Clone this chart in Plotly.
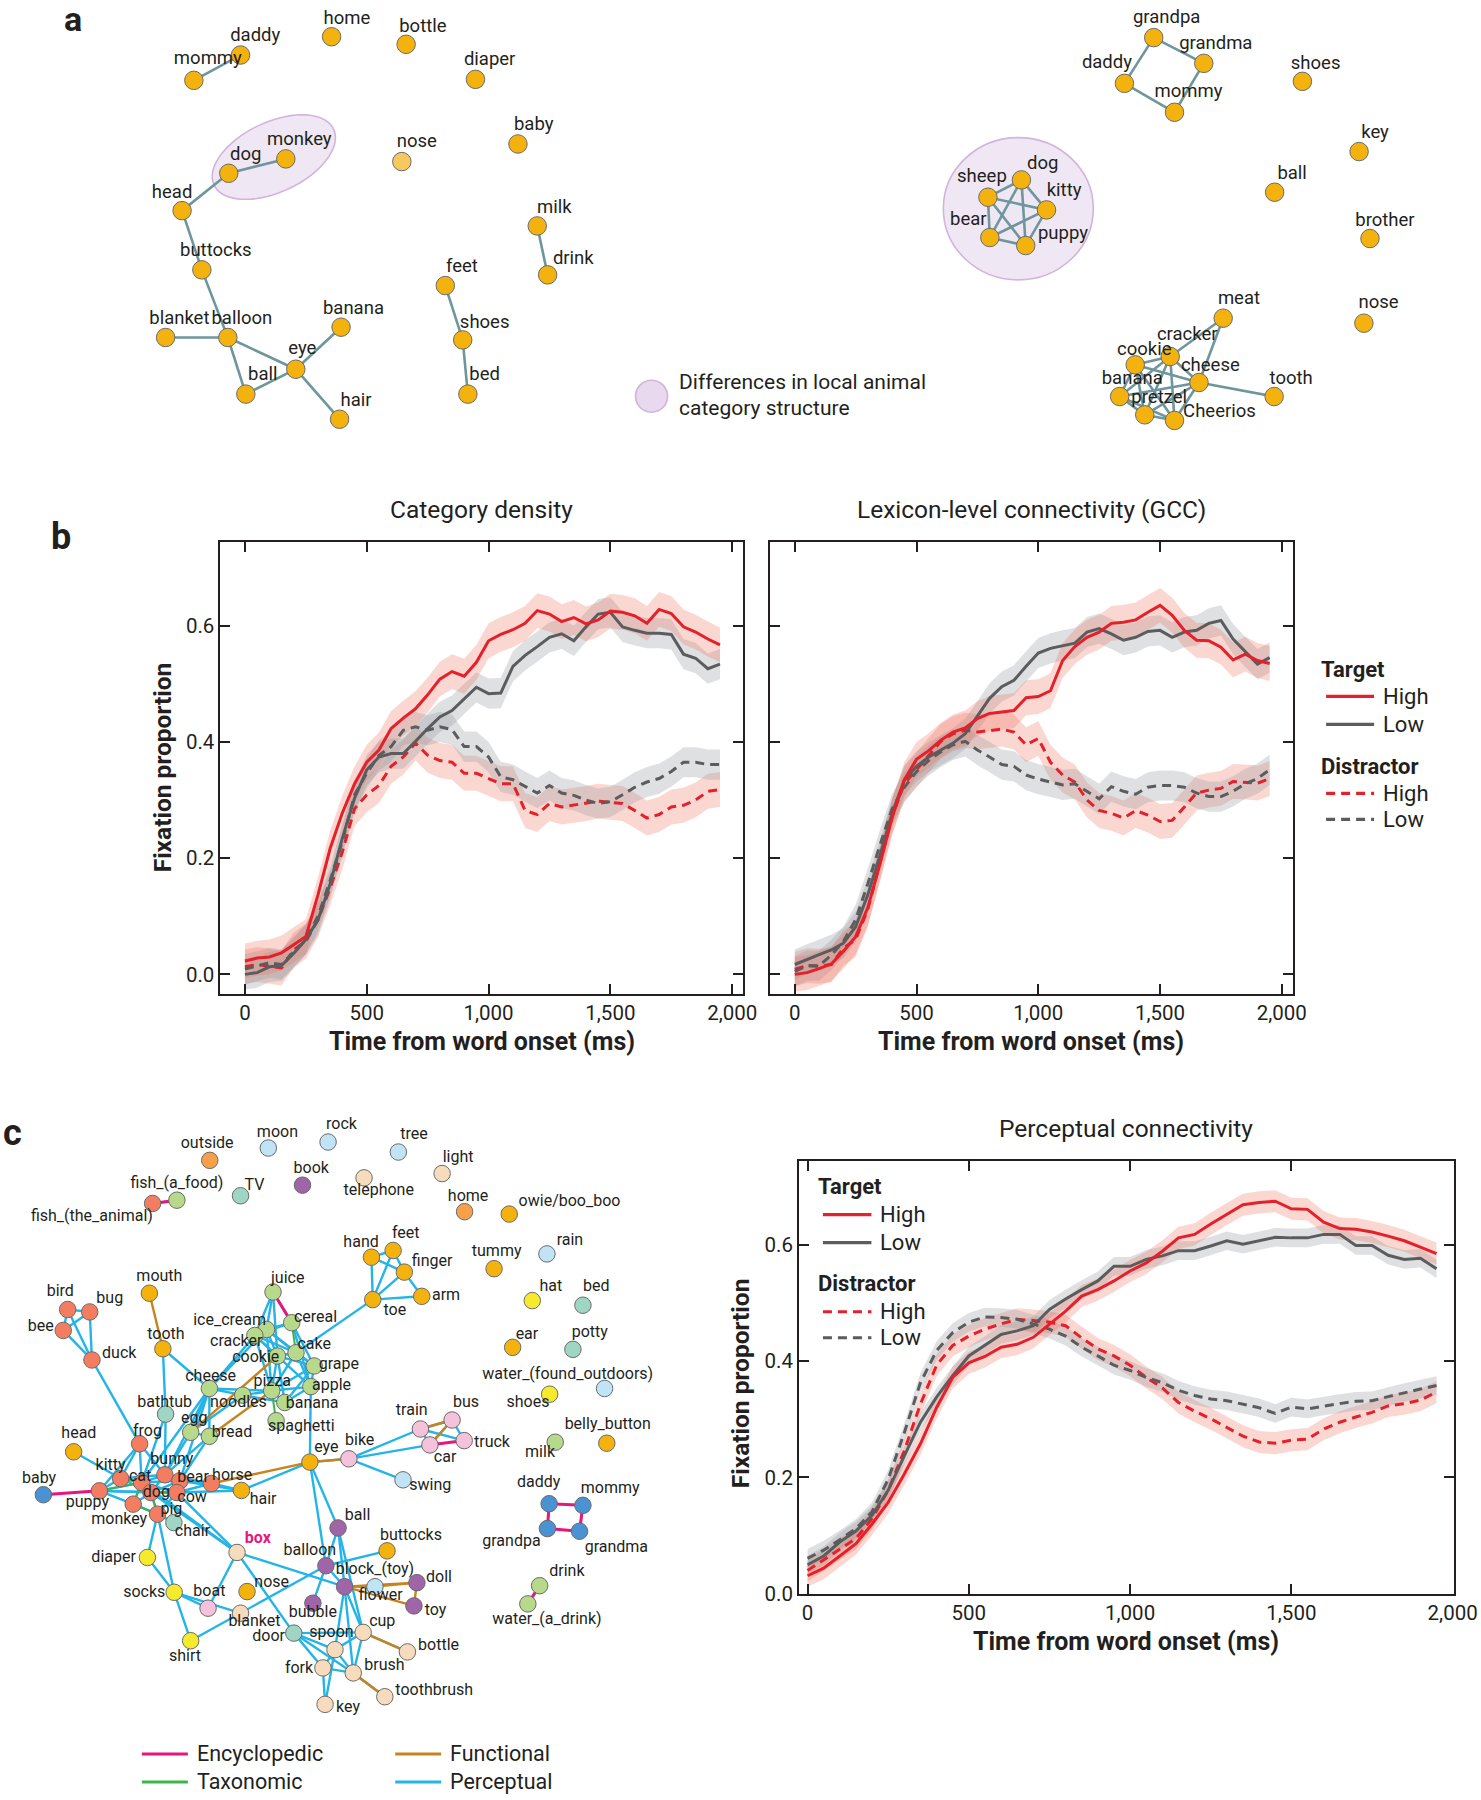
import math
import plotly.graph_objects as go

W, H = 1481, 1800          # design canvas: all coordinates below are in these units
FIG_W, FIG_H = 1504, 1813  # rendered size (the page photo otherwise carries an extra margin)
FONT = "Roboto"
INK = "#231f20"

# ---------------- Panel a: network data ----------------
a1_names = ["daddy", "mommy", "home", "bottle", "diaper", "baby", "nose", "dog", "monkey", "head",
            "milk", "drink", "buttocks", "feet", "shoes", "bed", "blanket", "balloon", "banana",
            "eye", "ball", "hair"]
a1_x = [240.7, 194.0, 331.8, 406.4, 475.8, 518.3, 402.1, 228.9, 286.0, 182.2,
        537.6, 548.0, 202.0, 445.6, 463.0, 468.2, 165.7, 228.0, 341.3, 296.0, 246.0, 339.8]
a1_y = [55.0, 80.3, 36.7, 44.3, 79.3, 143.9, 161.5, 173.2, 158.8, 210.5,
        225.8, 274.7, 269.7, 285.4, 339.7, 393.9, 337.3, 337.3, 327.0, 369.0, 393.9, 419.0]
a1_edges = [("daddy", "mommy"), ("dog", "monkey"), ("dog", "head"), ("head", "buttocks"),
            ("buttocks", "balloon"), ("blanket", "balloon"), ("balloon", "eye"), ("balloon", "ball"),
            ("ball", "eye"), ("eye", "banana"), ("eye", "hair"), ("milk", "drink"),
            ("feet", "shoes"), ("shoes", "bed")]

a2_names = ["grandpa", "grandma", "daddy", "mommy", "shoes", "key", "ball", "brother", "nose",
            "dog", "sheep", "kitty", "bear", "puppy", "meat", "cracker", "cookie", "cheese",
            "tooth", "banana", "pretzel", "Cheerios"]
a2_x = [1154.5, 1204.6, 1125.2, 1175.3, 1303.3, 1360.0, 1275.5, 1370.9, 1364.8,
        1022.1, 988.6, 1047.2, 990.5, 1026.4, 1224.0, 1171.0, 1136.0, 1199.8,
        1275.0, 1120.4, 1145.5, 1175.3]
a2_y = [37.6, 63.3, 83.3, 112.2, 81.3, 151.5, 192.1, 238.4, 323.0,
        179.8, 197.1, 209.8, 237.4, 245.4, 318.0, 356.3, 364.6, 382.3,
        396.3, 396.3, 414.6, 420.2]
a2_edges = [("grandpa", "grandma"), ("grandpa", "daddy"), ("daddy", "mommy"), ("grandma", "mommy"),
            ("sheep", "dog"), ("dog", "kitty"), ("kitty", "puppy"), ("puppy", "bear"), ("bear", "sheep"),
            ("sheep", "kitty"), ("sheep", "puppy"), ("dog", "bear"), ("dog", "puppy"), ("bear", "kitty"),
            ("meat", "cracker"), ("meat", "cheese"), ("cheese", "tooth"),
            ("cookie", "cracker"), ("cookie", "cheese"), ("cookie", "banana"), ("cookie", "pretzel"),
            ("cookie", "Cheerios"), ("cracker", "cheese"), ("cracker", "banana"), ("cracker", "pretzel"),
            ("cracker", "Cheerios"), ("cheese", "banana"), ("cheese", "pretzel"), ("cheese", "Cheerios"),
            ("banana", "pretzel"), ("banana", "Cheerios"), ("pretzel", "Cheerios")]

# ---------------- Panel c: network data ----------------
c_names = ["outside", "moon", "rock", "tree", "light", "book", "telephone", "TV", "fish_(a_food)",
           "fish_(the_animal)", "home", "owie/boo_boo", "hand", "feet", "finger", "arm", "toe", "tummy",
           "rain", "hat", "bed", "ear", "potty", "water_(found_outdoors)", "shoes", "belly_button", "milk",
           "mouth", "tooth", "bird", "bug", "bee", "duck", "juice", "cereal", "ice_cream", "cracker",
           "cake", "cookie", "grape", "cheese", "pizza", "apple", "noodles", "banana", "bathtub",
           "spaghetti", "egg", "bread", "frog", "head", "train", "bus", "truck", "car", "bike", "eye",
           "baby", "puppy", "kitty", "cat", "bunny", "bear", "horse", "dog", "cow", "monkey", "pig",
           "chair", "hair", "swing", "ball", "buttocks", "box", "balloon", "block_(toy)", "flower",
           "doll", "toy", "bubble", "diaper", "socks", "boat", "nose", "blanket", "shirt", "door",
           "spoon", "cup", "bottle", "fork", "brush", "toothbrush", "key", "daddy", "mommy",
           "grandpa", "grandma", "drink", "water_(a_drink)"]
c_x = [209.9, 268.5, 328.3, 398.6, 442.4, 302.7, 364.3, 240.7, 177.0,
       152.7, 464.9, 509.6, 371.7, 393.4, 404.6, 422.0, 373.0, 494.4,
       547.3, 532.6, 583.3, 513.0, 573.3, 605.0, 550.0, 607.2, 555.6,
       149.5, 163.0, 67.7, 89.8, 63.3, 92.0, 273.2, 291.9, 266.7, 255.0,
       296.2, 277.6, 314.4, 209.5, 271.9, 311.0, 242.9, 285.0, 165.7,
       276.3, 190.8, 209.5, 139.7, 73.7, 420.7, 452.4, 464.5, 430.2, 349.1, 310.1,
       43.4, 99.5, 120.7, 141.7, 165.0, 180.0, 211.5, 151.0, 177.0, 133.3, 157.7,
       174.0, 241.6, 403.3, 338.3, 387.3, 237.2, 326.1, 344.8, 375.2,
       417.2, 414.2, 313.1, 147.5, 174.3, 208.2, 247.2, 240.7, 190.8, 294.0,
       335.2, 363.4, 407.7, 323.1, 353.5, 385.1, 325.3, 549.5, 583.3,
       547.8, 579.9, 540.0, 528.2]
c_y = [1159.7, 1147.4, 1141.4, 1151.4, 1172.9, 1184.5, 1177.2, 1195.1, 1199.5,
       1202.8, 1211.0, 1213.4, 1256.5, 1249.8, 1271.4, 1295.6, 1298.9, 1268.0,
       1253.2, 1299.9, 1304.5, 1346.6, 1348.6, 1387.7, 1393.4, 1442.4, 1441.4,
       1292.5, 1348.0, 1308.8, 1311.2, 1329.7, 1359.2, 1291.3, 1322.0, 1328.7, 1334.7,
       1352.0, 1355.3, 1365.2, 1387.7, 1390.0, 1385.8, 1394.4, 1401.7, 1413.3,
       1419.9, 1431.5, 1435.5, 1443.0, 1451.0, 1428.2, 1419.2, 1439.8, 1444.1, 1458.0, 1461.3,
       1493.9, 1490.0, 1477.7, 1481.7, 1474.0, 1480.0, 1482.7, 1491.7, 1491.7, 1503.3, 1513.3,
       1521.7, 1489.6, 1479.0, 1527.1, 1550.0, 1551.6, 1564.9, 1585.8, 1585.8,
       1581.8, 1605.0, 1602.3, 1556.6, 1591.4, 1607.3, 1590.7, 1612.3, 1639.8, 1632.2,
       1648.7, 1631.5, 1651.0, 1667.0, 1672.0, 1695.8, 1703.4, 1502.9, 1504.5,
       1527.7, 1530.4, 1584.8, 1603.0]
c_category = {
    "animal": ["fish_(the_animal)", "bird", "bug", "bee", "duck", "frog", "puppy", "kitty", "cat", "bunny",
               "bear", "horse", "dog", "cow", "monkey", "pig"],
    "body": ["owie/boo_boo", "hand", "feet", "finger", "arm", "toe", "tummy", "ear", "belly_button", "mouth",
             "tooth", "head", "eye", "hair", "buttocks", "nose"],
    "food": ["fish_(a_food)", "milk", "juice", "cereal", "ice_cream", "cracker", "cake", "cookie", "grape",
             "cheese", "pizza", "apple", "noodles", "banana", "spaghetti", "egg", "bread", "drink",
             "water_(a_drink)"],
    "furniture": ["TV", "bed", "potty", "bathtub", "chair", "door"],
    "outdoors": ["moon", "rock", "tree", "rain", "water_(found_outdoors)", "swing", "flower"],
    "household": ["light", "telephone", "box", "blanket", "spoon", "cup", "bottle", "fork", "brush",
                  "toothbrush", "key"],
    "toys": ["book", "ball", "balloon", "block_(toy)", "doll", "toy", "bubble"],
    "vehicles": ["train", "bus", "truck", "car", "bike", "boat"],
    "clothing": ["hat", "shoes", "diaper", "socks", "shirt"],
    "places": ["outside", "home"],
    "people": ["baby", "daddy", "mommy", "grandpa", "grandma"],
}
c_edges_perceptual = [
    ("fish_(a_food)", "fish_(the_animal)"),
    ("hand", "feet"), ("hand", "toe"), ("hand", "finger"), ("feet", "finger"), ("feet", "toe"),
    ("finger", "toe"), ("finger", "arm"), ("toe", "arm"), ("toe", "cake"),
    ("bird", "bug"), ("bird", "bee"), ("bird", "duck"), ("bug", "bee"), ("bug", "duck"), ("bee", "duck"),
    ("duck", "frog"), ("tooth", "cheese"), ("tooth", "bathtub"),
    ("juice", "cereal"), ("juice", "ice_cream"), ("juice", "cracker"), ("juice", "cookie"),
    ("cereal", "ice_cream"), ("cereal", "cracker"), ("cereal", "apple"), ("cereal", "grape"),
    ("ice_cream", "cracker"), ("ice_cream", "cookie"), ("ice_cream", "cheese"), ("ice_cream", "pizza"),
    ("ice_cream", "cake"), ("ice_cream", "grape"), ("cracker", "cookie"), ("cracker", "cheese"),
    ("cracker", "pizza"), ("cracker", "cake"), ("cracker", "apple"), ("cookie", "cake"), ("cookie", "pizza"),
    ("cookie", "grape"), ("cookie", "banana"), ("cake", "grape"), ("cake", "apple"), ("cake", "pizza"),
    ("grape", "apple"), ("grape", "pizza"), ("grape", "banana"), ("apple", "banana"), ("apple", "pizza"),
    ("apple", "eye"), ("pizza", "banana"), ("pizza", "noodles"), ("pizza", "cheese"),
    ("noodles", "cheese"), ("noodles", "egg"), ("noodles", "banana"),
    ("cheese", "bread"), ("cheese", "egg"), ("cheese", "bunny"), ("cheese", "cat"), ("cheese", "bear"),
    ("egg", "bunny"), ("bread", "bunny"), ("bread", "bear"), ("egg", "bread"),
    ("bathtub", "bunny"), ("bathtub", "cat"), ("head", "kitty"),
    ("frog", "kitty"), ("frog", "cat"), ("frog", "bunny"), ("frog", "puppy"),
    ("puppy", "kitty"), ("puppy", "cat"), ("puppy", "dog"), ("puppy", "monkey"), ("puppy", "cow"),
    ("kitty", "cat"), ("kitty", "dog"), ("kitty", "bunny"), ("cat", "dog"), ("cat", "bunny"),
    ("cat", "bear"), ("cat", "cow"), ("cat", "monkey"), ("bunny", "bear"), ("bunny", "dog"),
    ("bunny", "horse"), ("bear", "horse"), ("bear", "dog"), ("bear", "cow"), ("dog", "cow"),
    ("dog", "pig"), ("dog", "monkey"), ("cow", "pig"), ("cow", "horse"), ("monkey", "pig"), ("pig", "chair"),
    ("horse", "hair"), ("cow", "hair"), ("bear", "hair"),
    ("dog", "box"), ("cow", "box"), ("cat", "box"),
    ("pig", "diaper"), ("pig", "socks"), ("diaper", "socks"), ("socks", "shirt"),
    ("eye", "hair"), ("eye", "bike"), ("eye", "ball"), ("eye", "balloon"),
    ("bike", "train"), ("bike", "car"), ("bike", "swing"),
    ("train", "car"), ("train", "truck"), ("bus", "truck"), ("train", "bus"), ("car", "bus"),
    ("box", "boat"), ("box", "block_(toy)"), ("box", "door"),
    ("socks", "boat"), ("socks", "blanket"), ("shirt", "balloon"),
    ("balloon", "ball"), ("balloon", "buttocks"), ("balloon", "block_(toy)"), ("balloon", "bubble"),
    ("ball", "block_(toy)"), ("ball", "cup"),
    ("block_(toy)", "flower"), ("block_(toy)", "spoon"), ("block_(toy)", "cup"), ("block_(toy)", "brush"),
    ("door", "spoon"), ("door", "fork"), ("door", "brush"), ("door", "cup"),
    ("spoon", "cup"), ("spoon", "fork"), ("spoon", "brush"), ("spoon", "key"),
    ("cup", "bottle"), ("cup", "brush"), ("brush", "toothbrush"), ("brush", "fork"), ("fork", "key"),
]
c_edges_functional = [
    ("mouth", "tooth"), ("cookie", "egg"), ("bread", "pizza"), ("horse", "eye"), ("eye", "bike"),
    ("train", "bus"), ("bus", "car"), ("block_(toy)", "doll"), ("flower", "doll"), ("block_(toy)", "toy"),
    ("doll", "toy"), ("cup", "bottle"), ("brush", "toothbrush"),
]
c_edges_taxonomic = [
    ("cereal", "cake"), ("pizza", "spaghetti"), ("kitty", "cat"), ("puppy", "cat"), ("dog", "cow"),
    ("dog", "pig"), ("monkey", "pig"), ("cat", "monkey"), ("cat", "dog"), ("daddy", "grandpa"),
    ("mommy", "grandma"), ("drink", "water_(a_drink)"),
]
c_edges_encyclopedic = [
    ("fish_(a_food)", "fish_(the_animal)"), ("juice", "cereal"), ("car", "truck"), ("baby", "puppy"),
    ("daddy", "mommy"), ("grandpa", "grandma"), ("daddy", "grandpa"), ("mommy", "grandma"),
    ("drink", "water_(a_drink)"),
]

# ---------------- Time-course data (fixation proportions) ----------------
t_ms = [0, 50, 100, 150, 200, 250, 300, 350, 400, 450, 500, 550, 600, 650, 700, 750, 800, 850, 900, 950,
        1000, 1050, 1100, 1150, 1200, 1250, 1300, 1350, 1400, 1450, 1500, 1550, 1600, 1650, 1700, 1750,
        1800, 1850, 1900, 1950]

cd_target_high = [0.023, 0.028, 0.030, 0.037, 0.051, 0.065, 0.137, 0.217, 0.278, 0.328, 0.365, 0.386,
                  0.423, 0.441, 0.457, 0.481, 0.508, 0.521, 0.513, 0.537, 0.574, 0.585, 0.593, 0.604,
                  0.626, 0.620, 0.607, 0.614, 0.603, 0.610, 0.625, 0.623, 0.617, 0.604, 0.628, 0.621,
                  0.598, 0.589, 0.577, 0.567]
cd_target_low = [0.000, 0.003, 0.013, 0.015, 0.036, 0.060, 0.094, 0.156, 0.235, 0.303, 0.352, 0.374,
                 0.380, 0.380, 0.401, 0.423, 0.443, 0.454, 0.474, 0.494, 0.483, 0.484, 0.530, 0.549,
                 0.564, 0.580, 0.586, 0.574, 0.598, 0.620, 0.623, 0.598, 0.592, 0.587, 0.587, 0.585,
                 0.551, 0.544, 0.526, 0.534]
cd_distr_high = [0.013, 0.017, 0.014, 0.011, 0.042, 0.057, 0.094, 0.149, 0.211, 0.285, 0.309, 0.325,
                 0.358, 0.374, 0.398, 0.377, 0.368, 0.365, 0.346, 0.346, 0.337, 0.328, 0.328, 0.282,
                 0.275, 0.294, 0.288, 0.291, 0.294, 0.298, 0.296, 0.294, 0.282, 0.269, 0.275, 0.288,
                 0.291, 0.300, 0.315, 0.318]
cd_distr_low = [0.009, 0.014, 0.020, 0.017, 0.039, 0.060, 0.100, 0.162, 0.229, 0.309, 0.346, 0.377,
                0.392, 0.420, 0.426, 0.420, 0.426, 0.421, 0.392, 0.392, 0.374, 0.340, 0.335, 0.323,
                0.312, 0.325, 0.312, 0.308, 0.300, 0.294, 0.297, 0.309, 0.322, 0.331, 0.337, 0.349,
                0.365, 0.365, 0.361, 0.361]

gcc_target_high = [0.000, 0.003, 0.010, 0.018, 0.040, 0.065, 0.115, 0.190, 0.270, 0.335, 0.370, 0.385,
                   0.403, 0.417, 0.424, 0.440, 0.449, 0.451, 0.454, 0.476, 0.478, 0.488, 0.540, 0.564,
                   0.580, 0.589, 0.604, 0.606, 0.610, 0.623, 0.635, 0.618, 0.592, 0.575, 0.574, 0.563,
                   0.541, 0.551, 0.540, 0.535]
gcc_target_low = [0.017, 0.026, 0.034, 0.042, 0.054, 0.082, 0.137, 0.205, 0.278, 0.334, 0.358, 0.374,
                  0.386, 0.398, 0.414, 0.444, 0.475, 0.495, 0.506, 0.530, 0.553, 0.561, 0.566, 0.570,
                  0.589, 0.595, 0.586, 0.575, 0.580, 0.590, 0.592, 0.580, 0.589, 0.592, 0.604, 0.609,
                  0.577, 0.555, 0.534, 0.545]
gcc_distr_high = [0.009, 0.015, 0.014, 0.017, 0.045, 0.060, 0.112, 0.192, 0.272, 0.328, 0.352, 0.377,
                  0.401, 0.414, 0.420, 0.417, 0.420, 0.422, 0.417, 0.395, 0.406, 0.365, 0.343, 0.331,
                  0.300, 0.282, 0.277, 0.269, 0.282, 0.274, 0.263, 0.265, 0.288, 0.312, 0.317, 0.320,
                  0.332, 0.331, 0.329, 0.337]
gcc_distr_low = [0.005, 0.015, 0.015, 0.033, 0.057, 0.094, 0.156, 0.223, 0.285, 0.322, 0.349, 0.368,
                 0.383, 0.395, 0.401, 0.386, 0.374, 0.361, 0.358, 0.343, 0.336, 0.331, 0.326, 0.328,
                 0.315, 0.302, 0.323, 0.315, 0.310, 0.322, 0.325, 0.325, 0.322, 0.312, 0.306, 0.306,
                 0.315, 0.328, 0.337, 0.352]

pc_target_high = [0.031, 0.044, 0.065, 0.086, 0.120, 0.157, 0.206, 0.258, 0.320, 0.372, 0.397, 0.408,
                  0.424, 0.429, 0.441, 0.464, 0.486, 0.512, 0.523, 0.538, 0.555, 0.569, 0.589, 0.612,
                  0.618, 0.636, 0.653, 0.669, 0.673, 0.675, 0.662, 0.661, 0.639, 0.628, 0.627, 0.622,
                  0.615, 0.607, 0.596, 0.585]
pc_target_low = [0.050, 0.065, 0.089, 0.108, 0.135, 0.178, 0.237, 0.295, 0.338, 0.375, 0.409, 0.427,
                 0.446, 0.452, 0.461, 0.489, 0.507, 0.523, 0.538, 0.563, 0.563, 0.575, 0.581, 0.590,
                 0.590, 0.598, 0.607, 0.601, 0.607, 0.613, 0.612, 0.612, 0.618, 0.618, 0.599, 0.599,
                 0.582, 0.575, 0.577, 0.559]
pc_distr_high = [0.040, 0.058, 0.077, 0.095, 0.129, 0.178, 0.246, 0.326, 0.393, 0.427, 0.443, 0.455,
                 0.464, 0.472, 0.470, 0.467, 0.461, 0.440, 0.421, 0.409, 0.393, 0.372, 0.354, 0.329,
                 0.314, 0.301, 0.286, 0.271, 0.261, 0.259, 0.264, 0.266, 0.283, 0.295, 0.304, 0.312,
                 0.323, 0.327, 0.333, 0.347]
pc_distr_low = [0.061, 0.075, 0.093, 0.112, 0.141, 0.197, 0.277, 0.363, 0.418, 0.449, 0.467, 0.476,
                0.475, 0.472, 0.464, 0.455, 0.443, 0.424, 0.409, 0.393, 0.384, 0.372, 0.363, 0.350,
                0.341, 0.335, 0.332, 0.326, 0.320, 0.310, 0.321, 0.318, 0.323, 0.327, 0.331, 0.332,
                0.339, 0.346, 0.352, 0.358]

# standard-error half widths of the ribbons
se_b_red, se_b_gray = 0.030, 0.026
se_c_red, se_c_gray = 0.019, 0.016

x_tick_vals = [0, 500, 1000, 1500, 2000]
x_tick_text = ["0", "500", "1,000", "1,500", "2,000"]
y_tick_vals = [0.0, 0.2, 0.4, 0.6]
y_tick_text = ["0.0", "0.2", "0.4", "0.6"]

# ---------------- Styles / layout positions ----------------
RED = "#e5202a"
GRAY = "#5b5c5e"
RED_BAND = "rgba(240,110,90,0.28)"
GRAY_BAND = "rgba(150,153,158,0.30)"
A_NODE = "#f4b20f"
A_EDGE = "#6e969c"
EDGE_COL = {"P": "#25b4e8", "F": "#c6841f", "T": "#3cb54a", "E": "#e8157f"}
CAT_COL = {"animal": "#f27d60", "body": "#f4b20f", "food": "#b7d98c", "furniture": "#9fd6c3",
           "outdoors": "#c0e4f6", "household": "#f6dcbd", "toys": "#a065a8", "vehicles": "#f5c2db",
           "clothing": "#f5ea2e", "places": "#f6a04a", "people": "#4a92d2"}

a1_lab = {"daddy": (14.7, -19), "mommy": (14, -21), "home": (15.3, -17.4), "bottle": (16.8, -17.3),
          "diaper": (14.2, -18.6), "baby": (15.8, -18.3), "nose": (15, -19.2), "dog": (17, -18),
          "monkey": (13.5, -18.8), "head": (-10, -17.5), "milk": (17, -17.8), "drink": (25.7, -15.3),
          "buttocks": (14, -18), "feet": (16.6, -17.7), "shoes": (22, -17), "bed": (16.8, -18.6),
          "blanket": (13.8, -18.6), "balloon": (14, -18.6), "banana": (12.4, -17.6), "eye": (6.5, -20.3),
          "ball": (17, -18.6), "hair": (16.4, -17.7)}
a2_lab = {"grandpa": (12.9, -18.9), "grandma": (12, -19), "daddy": (-17.5, -19.7), "mommy": (14, -20.2),
          "shoes": (13.2, -17), "key": (16, -18.3), "ball": (17.5, -17.6), "brother": (15, -17.3),
          "nose": (14.7, -19.3), "dog": (21.4, -15.8), "sheep": (-6, -20), "kitty": (17.6, -18.7),
          "bear": (-21.5, -17.3), "puppy": (37.3, -11.6), "meat": (15.8, -18.3), "cracker": (17, -21),
          "cookie": (9, -14.6), "cheese": (11.4, -16.3), "tooth": (17, -17), "banana": (12.6, -16.7),
          "pretzel": (14.5, -16.6), "Cheerios": (45, -8)}
c_lab = {"outside": (-2.6, -15.9), "moon": (9.1, -14.9), "rock": (13.4, -17.2), "tree": (15.6, -17.2),
         "light": (16, -15.9), "book": (8.7, -16.6), "telephone": (14.7, 13.3), "TV": (13.9, -9.9),
         "fish_(a_food)": (0, -15.9), "fish_(the_animal)": (-60.7, 13.3), "home": (3.5, -14.9),
         "owie/boo_boo": (60.3, -12.3), "hand": (-10.4, -14.6), "feet": (12.6, -16.2),
         "finger": (27.8, -9.9), "arm": (24.3, 0), "toe": (22.1, 10.9), "tummy": (2.6, -16.6),
         "rain": (23, -12.9), "hat": (18.6, -13.6), "bed": (13.4, -17.9), "ear": (14.3, -12.6),
         "potty": (16.9, -15.9), "water_(found_outdoors)": (-36.9, -13.3), "shoes": (-21.7, 9.3),
         "belly_button": (0.9, -18.2), "milk": (-15.2, 10.6), "mouth": (10, -15.9), "tooth": (3, -13.9),
         "bird": (-7.4, -17.2), "bug": (20, -12.9), "bee": (-22.6, -3.6), "duck": (27.3, -6.3),
         "juice": (14.7, -12.9), "cereal": (23.9, -5), "ice_cream": (-36.9, -8.3), "cracker": (-18.6, 6.6),
         "cake": (18.2, -7.3), "cookie": (-21.7, 1.7), "grape": (24.7, -0.7), "cheese": (1.3, -11.9),
         "pizza": (0.4, -8.3), "apple": (20.8, -0.7), "noodles": (-4.3, 8), "banana": (27.3, 1.7),
         "bathtub": (-0.9, -10.9), "spaghetti": (25.2, 6.6), "egg": (3.5, -13.3), "bread": (22.6, -3),
         "frog": (7.8, -11.6), "head": (5.2, -17.6), "train": (-8.7, -18.2), "bus": (13.9, -16.6),
         "truck": (27.8, 2.3), "car": (15.2, 12.9), "bike": (10.8, -17.6), "eye": (16.5, -13.9),
         "baby": (-4.3, -15.9), "puppy": (-12, 12.3), "kitty": (-10, -12.6), "cat": (-1.5, -5.5),
         "bunny": (7, -15), "bear": (13.2, -3.3), "horse": (20.8, -7.6), "dog": (5.5, 0),
         "cow": (15.2, 5.3), "monkey": (-14, 15.9), "pig": (13.8, -4.3), "chair": (18.6, 9.3),
         "hair": (21.7, 9.9), "swing": (27.3, 6.3), "ball": (19.5, -11.9), "buttocks": (23.9, -14.6),
         "box": (20.8, -13.9), "balloon": (-16, -14.6), "block_(toy)": (30.4, -16.6), "flower": (5.6, 9),
         "doll": (22.1, -4.3), "toy": (21.7, 5), "bubble": (0, 9.3), "diaper": (-33.8, 0.3),
         "socks": (-29.9, 1), "boat": (1.3, -16.6), "nose": (24.7, -8.3), "blanket": (13.9, 8.3),
         "shirt": (-5.6, 16.6), "door": (-25.2, 4), "spoon": (-3.5, -16.6), "cup": (19.1, -10.9),
         "bottle": (31.2, -5.6), "fork": (-23.9, 1), "brush": (31.2, -6.6), "toothbrush": (49.4, -5.6),
         "key": (23, 4), "daddy": (-10.4, -20.6), "mommy": (27.3, -16.6), "grandpa": (-36, 13.3),
         "grandma": (36.9, 16.6), "drink": (27.3, -13.3), "water_(a_drink)": (19.1, 15.9)}

fig = go.Figure()


def add_network(names, xs, ys, edges, edge_color, edge_width, node_colors, node_size, labels, font_size,
                label_colors=None, label_texts=None):
    pos = {n: (x, y) for n, x, y in zip(names, xs, ys)}
    for group, col, wid in zip(edges, edge_color, edge_width):
        ex, ey = [], []
        for a, b in group:
            ex += [pos[a][0], pos[b][0], None]
            ey += [pos[a][1], pos[b][1], None]
        fig.add_trace(go.Scatter(x=ex, y=ey, mode="lines", line=dict(color=col, width=wid),
                                 hoverinfo="skip", showlegend=False, xaxis="x", yaxis="y"))
    fig.add_trace(go.Scatter(x=xs, y=ys, mode="markers",
                             marker=dict(size=node_size, color=node_colors,
                                         line=dict(color="#6b6b6b", width=1)),
                             text=names, hoverinfo="text", showlegend=False, xaxis="x", yaxis="y"))
    lx = [pos[n][0] + labels[n][0] for n in names]
    ly = [pos[n][1] + labels[n][1] for n in names]
    fig.add_trace(go.Scatter(x=lx, y=ly, mode="text", text=label_texts or names,
                             textposition="middle center",
                             textfont=dict(family=FONT, size=font_size,
                                           color=label_colors or INK),
                             hoverinfo="skip", showlegend=False, xaxis="x", yaxis="y"))


# Panel a networks
a1_colors = [("#f6c85e" if n == "nose" else A_NODE) for n in a1_names]
add_network(a1_names, a1_x, a1_y, [a1_edges], [A_EDGE], [2.6], a1_colors, 18.5, a1_lab, 18.5)
add_network(a2_names, a2_x, a2_y, [a2_edges], [A_EDGE], [2.6], [A_NODE] * len(a2_names), 18.5, a2_lab, 18.5)

# Panel c network
cat_of = {n: c for c, lst in c_category.items() for n in lst}
c_colors = [CAT_COL[cat_of[n]] for n in c_names]
c_label_colors = [("#e8157f" if n == "box" else INK) for n in c_names]
c_label_texts = [("<b>box</b>" if n == "box" else n) for n in c_names]
add_network(c_names, c_x, c_y,
            [c_edges_perceptual, c_edges_functional, c_edges_taxonomic, c_edges_encyclopedic],
            [EDGE_COL["P"], EDGE_COL["F"], EDGE_COL["T"], EDGE_COL["E"]],
            [2.4, 2.4, 2.0, 3.0], c_colors, 16.5, c_lab, 16,
            label_colors=c_label_colors, label_texts=c_label_texts)


# ---------------- Time-course subplots ----------------
def band(xs, m, se):
    up = [v + se for v in m]
    lo = [v - se for v in m]
    return xs + xs[::-1], up + lo[::-1]


def add_timecourse(xa, ya, th, tl, dh, dl, se_r, se_g):
    for m, col, se in [(dh, RED_BAND, se_r), (dl, GRAY_BAND, se_g), (tl, GRAY_BAND, se_g), (th, RED_BAND, se_r)]:
        bx, by = band(t_ms, m, se)
        fig.add_trace(go.Scatter(x=bx, y=by, fill="toself", fillcolor=col, mode="none",
                                 hoverinfo="skip", showlegend=False, xaxis=xa, yaxis=ya))
    for m, col, dash in [(dh, RED, "9px,6px"), (dl, GRAY, "9px,6px"), (tl, GRAY, "solid"), (th, RED, "solid")]:
        fig.add_trace(go.Scatter(x=t_ms, y=m, mode="lines", line=dict(color=col, width=3, dash=dash),
                                 showlegend=False, xaxis=xa, yaxis=ya))


add_timecourse("x2", "y2", cd_target_high, cd_target_low, cd_distr_high, cd_distr_low, se_b_red, se_b_gray)
add_timecourse("x3", "y3", gcc_target_high, gcc_target_low, gcc_distr_high, gcc_distr_low, se_b_red, se_b_gray)
add_timecourse("x4", "y4", pc_target_high, pc_target_low, pc_distr_high, pc_distr_low, se_c_red, se_c_gray)


def dom_x(a, b):
    return [a / W, b / W]


def dom_y(top, bottom):
    return [1 - bottom / H, 1 - top / H]


def axis_style(**kw):
    d = dict(showline=True, mirror="allticks", linecolor=INK, linewidth=2, ticks="inside", ticklen=10,
             tickwidth=2, tickcolor=INK, showgrid=False, zeroline=False, fixedrange=True,
             tickfont=dict(family=FONT, size=20.5, color=INK))
    d.update(kw)
    return d


fig.update_layout(
    width=FIG_W, height=FIG_H, autosize=False, margin=dict(l=0, r=0, t=0, b=0, pad=0),
    paper_bgcolor="white", plot_bgcolor="rgba(0,0,0,0)",
    font=dict(family=FONT, color=INK),
    xaxis=dict(domain=[0, 1], range=[0, W], visible=False, fixedrange=True),
    yaxis=dict(domain=[0, 1], range=[H, 0], visible=False, fixedrange=True),
    xaxis2=axis_style(domain=dom_x(220.6, 743.3), range=[-100.5, 2043.5], anchor="y2",
                      tickvals=x_tick_vals, ticktext=x_tick_text),
    yaxis2=axis_style(domain=dom_y(541.4, 993), range=[-0.033, 0.7445], anchor="x2",
                      tickvals=y_tick_vals, ticktext=y_tick_text),
    xaxis3=axis_style(domain=dom_x(770.7, 1293.4), range=[-101, 2044], anchor="y3",
                      tickvals=x_tick_vals, ticktext=x_tick_text),
    yaxis3=axis_style(domain=dom_y(541.4, 993), range=[-0.033, 0.7445], anchor="x3",
                      tickvals=y_tick_vals, ticktext=y_tick_text, showticklabels=False),
    xaxis4=axis_style(domain=dom_x(799.6, 1454.6), range=[-26.3, 2003], anchor="y4",
                      tickvals=x_tick_vals, ticktext=x_tick_text),
    yaxis4=axis_style(domain=dom_y(1160, 1592.9), range=[0, 0.7448], anchor="x4",
                      tickvals=y_tick_vals, ticktext=y_tick_text),
)

shapes = []
annotations = []


def txt(x, y, s, size, bold=False, xanchor="center", yanchor="middle", color=INK, angle=0):
    annotations.append(dict(x=x, y=y, xref="x", yref="y", text=(f"<b>{s}</b>" if bold else s),
                            showarrow=False, xanchor=xanchor, yanchor=yanchor, textangle=angle,
                            font=dict(family=FONT, size=size, color=color)))


# Ellipse highlighting the animal pair (panel a, left)
cx, cy, ra, rb, th = 274, 157, 66, 35, math.radians(25)
pts = []
for k in range(73):
    u = 2 * math.pi * k / 72
    ex = cx + ra * math.cos(u) * math.cos(th) + rb * math.sin(u) * math.sin(th)
    ey = cy - ra * math.cos(u) * math.sin(th) + rb * math.sin(u) * math.cos(th)
    pts.append(f"{ex:.1f},{ey:.1f}")
shapes.append(dict(type="path", path="M" + " L".join(pts) + " Z", xref="x", yref="y", layer="below",
                   fillcolor="#f0e7f4", line=dict(color="#d2b4dc", width=1.6)))
shapes.append(dict(type="circle", x0=944, x1=1094, y0=137.5, y1=279.7, xref="x", yref="y", layer="below",
                   fillcolor="#f0e7f4", line=dict(color="#d2b4dc", width=1.6)))
shapes.append(dict(type="circle", x0=636, x1=668, y0=380, y1=412, xref="x", yref="y", layer="below",
                   fillcolor="#e8d9ee", line=dict(color="#d2b4dc", width=1.6)))
txt(677, 382, "Differences in local animal", 21, xanchor="left")
txt(677, 408, "category structure", 21, xanchor="left")

# Panel letters
txt(73, 19, "a", 34, bold=True)
txt(61, 537, "b", 36, bold=True)
txt(13, 1132, "c", 36, bold=True)

# Subplot titles & axis titles
txt(482, 509, "Category density", 24.5)
txt(1032, 509, "Lexicon-level connectivity (GCC)", 24.5)
txt(1127, 1128, "Perceptual connectivity", 24.5)
for xc in (482, 1032):
    txt(xc, 1041, "Time from word onset (ms)", 25, bold=True)
txt(1127, 1641, "Time from word onset (ms)", 25, bold=True)
txt(163, 767, "Fixation proportion", 24.5, bold=True, angle=-90)
txt(741, 1383, "Fixation proportion", 24.5, bold=True, angle=-90)


def legend_block(x_head, x0, x1, x_text, ys):
    y_t, y_th, y_tl, y_d, y_dh, y_dl = ys
    txt(x_head, y_t, "Target", 22, bold=True, xanchor="left")
    txt(x_head, y_d, "Distractor", 22, bold=True, xanchor="left")
    for yy, col, dash in [(y_th, RED, "solid"), (y_tl, GRAY, "solid"), (y_dh, RED, "9px,6px"),
                          (y_dl, GRAY, "9px,6px")]:
        shapes.append(dict(type="line", x0=x0, x1=x1, y0=yy, y1=yy, xref="x", yref="y",
                           line=dict(color=col, width=3.2, dash=dash)))
    for yy, s in [(y_th, "High"), (y_tl, "Low"), (y_dh, "High"), (y_dl, "Low")]:
        txt(x_text, yy, s, 22, xanchor="left")


legend_block(1320, 1327, 1375, 1382, (669, 696, 724, 766, 793, 819))
legend_block(817, 823.5, 872, 879, (1186, 1214, 1242, 1283, 1311, 1337))

# Relation-type legend for panel c
for (x0, yy, col, s) in [(142, 1753, EDGE_COL["E"], "Encyclopedic"), (142, 1781, EDGE_COL["T"], "Taxonomic"),
                         (395.5, 1753, EDGE_COL["F"], "Functional"), (395.5, 1781, EDGE_COL["P"], "Perceptual")]:
    shapes.append(dict(type="line", x0=x0, x1=x0 + 46, y0=yy, y1=yy, xref="x", yref="y",
                       line=dict(color=col, width=3)))
    txt(x0 + 53, yy, s, 21.5, xanchor="left")

fig.update_layout(shapes=shapes, annotations=annotations)
fig.write_html(
    "out.html",
    config={"displayModeBar": False, "responsive": False},
    post_script="document.documentElement.style.margin='0';document.body.style.margin='0';",
)
